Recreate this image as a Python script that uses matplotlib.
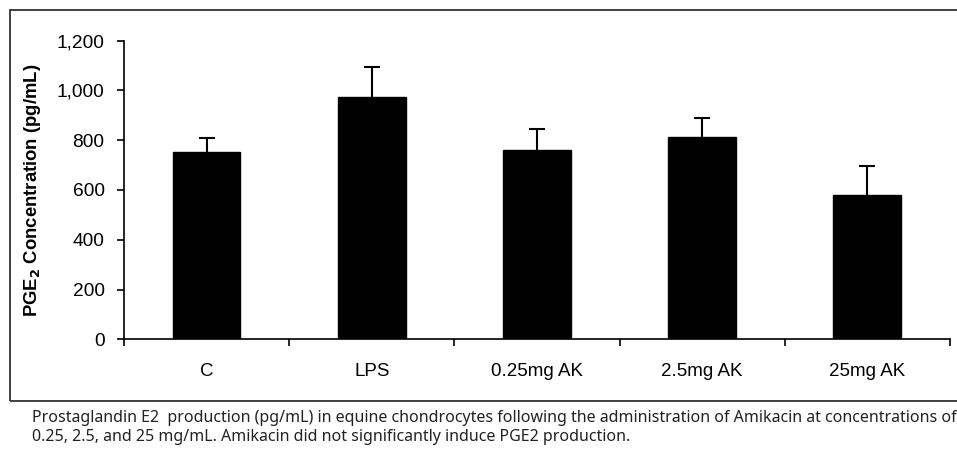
import numpy as np
import matplotlib.pyplot as plt
from matplotlib.patches import Rectangle

# data
groups = ['C', 'LPS', '0.25mg AK', '2.5mg AK', '25mg AK']
pge2 = [754, 975, 760, 814, 580]
err = [54, 120, 85, 76, 117]

yticks = [0, 200, 400, 600, 800, 1000, 1200]
ytick_labels = ['0', '200', '400', '600', '800', '1,000', '1,200']

caption = ("Prostaglandin E2  production (pg/mL) in equine chondrocytes following the administration of Amikacin at concentrations of\n"
           "0.25, 2.5, and 25 mg/mL. Amikacin did not significantly induce PGE2 production.")

plt.rcParams['font.family'] = ['Liberation Sans', 'DejaVu Sans']

fig = plt.figure(figsize=(9.57, 4.57), dpi=100)
ax = fig.add_axes([0.1296, 0.2575, 0.863, 0.6535])

x = np.arange(len(groups))
ax.bar(x, pge2, width=0.41, color='black', edgecolor='black', zorder=2)
eb = ax.errorbar(x, pge2, yerr=[np.zeros(len(err)), err], fmt='none',
                 ecolor='black', elinewidth=1.5, capsize=6, capthick=1.5, zorder=1)
eb[1][0].set_visible(False)  # no lower cap

ax.set_xlim(-0.5, len(groups) - 0.5)
ax.set_ylim(0, 1200)
ax.set_yticks(yticks)
ax.set_yticklabels(ytick_labels, fontsize=13.8)
ax.set_xticks(x)
ax.set_xticklabels(groups, fontsize=13.5)
ax.tick_params(axis='x', length=0, pad=17)
ax.set_xticks(np.arange(-0.5, len(groups)), minor=True)
ax.tick_params(axis='x', which='minor', length=5, width=1.2, direction='out')
ax.tick_params(axis='y', length=5, width=1.2, direction='out', pad=9)

for s in ['top', 'right']:
    ax.spines[s].set_visible(False)
for s in ['left', 'bottom']:
    ax.spines[s].set_linewidth(1.2)

ax.set_ylabel(r'PGE$_\mathbf{2}$ Concentration (pg/mL)', fontsize=13.3,
              fontweight='bold', labelpad=10)

# outer frame around the chart (right side runs off the image)
fig.patches.append(Rectangle((10 / 957, 1 - 401 / 457), 1.2, 391 / 457,
                             transform=fig.transFigure, fill=False,
                             edgecolor='#333333', linewidth=1.3))

fig.text(32 / 957, 1 - 410 / 457, caption, fontsize=11.5, va='top', ha='left',
         family=['Noto Sans', 'DejaVu Sans'], linespacing=1.25, color='#222222')

fig.savefig('out.png', dpi=100)
